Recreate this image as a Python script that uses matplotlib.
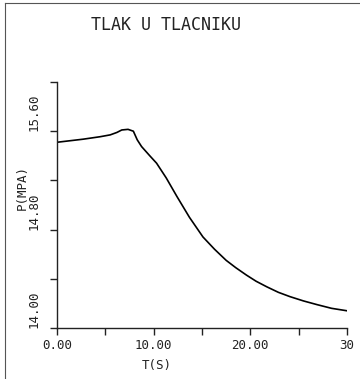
import matplotlib
matplotlib.use("Agg")
import matplotlib.pyplot as plt
from matplotlib.lines import Line2D

# Data
t = [0.0, 2.7, 4.45, 5.5, 6.2, 6.7, 7.35, 7.9, 8.3, 8.75, 9.6, 10.3, 11.3,
     12.4, 13.7, 15.1, 16.3, 17.5, 18.5, 19.6, 20.6, 21.7, 22.9, 24.1, 25.5,
     26.9, 28.4, 30.0]
p = [15.51, 15.535, 15.555, 15.57, 15.59, 15.61, 15.615, 15.60, 15.53, 15.475,
     15.40, 15.34, 15.22, 15.07, 14.90, 14.74, 14.64, 14.55, 14.49, 14.43,
     14.38, 14.335, 14.29, 14.255, 14.22, 14.19, 14.16, 14.14]

xticks = [0, 5, 10, 15, 20, 25, 30]
xlabels = ['0.00', '', '10.00', '', '20.00', '', '30']
yticks = [14.0, 14.4, 14.8, 15.2, 15.6, 16.0]
ylabels = ['14.00', '', '14.80', '', '15.60', '']

ink = '#222222'
mono = 'DejaVu Sans Mono'

fig = plt.figure(figsize=(3.6, 3.79), dpi=100)
ax = fig.add_axes([57 / 360, 1 - 328 / 379, 290 / 360, 246 / 379])

ax.plot(t, p, color='black', lw=1.2)

ax.set_xlim(0, 30)
ax.set_ylim(14.0, 16.0)
ax.spines['top'].set_visible(False)
ax.spines['right'].set_visible(False)
for s in ('left', 'bottom'):
    ax.spines[s].set_color(ink)
    ax.spines[s].set_linewidth(1.0)

ax.set_xticks(xticks)
ax.set_xticklabels(xlabels, family=mono, fontsize=9, color=ink)
ax.set_yticks(yticks)
ax.set_yticklabels(ylabels, family=mono, fontsize=9, color=ink,
                   rotation=90, va='bottom')
ax.tick_params(axis='both', direction='out', length=5, width=1.0, color=ink)
ax.tick_params(axis='y', pad=7)
ax.tick_params(axis='x', pad=3)

fig.text(166 / 360, 1 - 25 / 379, 'TLAK U TLACNIKU', family=mono, fontsize=12,
         color=ink, ha='center', va='center')
fig.text(157 / 360, 1 - 366 / 379, 'T(S)', family=mono, fontsize=9,
         color=ink, ha='center', va='center')
fig.text(22 / 360, 1 - 187 / 379, 'P(MPA)', family=mono, fontsize=9,
         color=ink, ha='center', va='center', rotation=90)

# scanned page border
fig.add_artist(Line2D([5 / 360, 5 / 360], [0, 1 - 3 / 379], color='#555555', lw=0.8,
                      transform=fig.transFigure))
fig.add_artist(Line2D([5 / 360, 1], [1 - 3 / 379, 1 - 3 / 379], color='#555555', lw=0.8,
                      transform=fig.transFigure))

fig.savefig('out.png', dpi=100)
